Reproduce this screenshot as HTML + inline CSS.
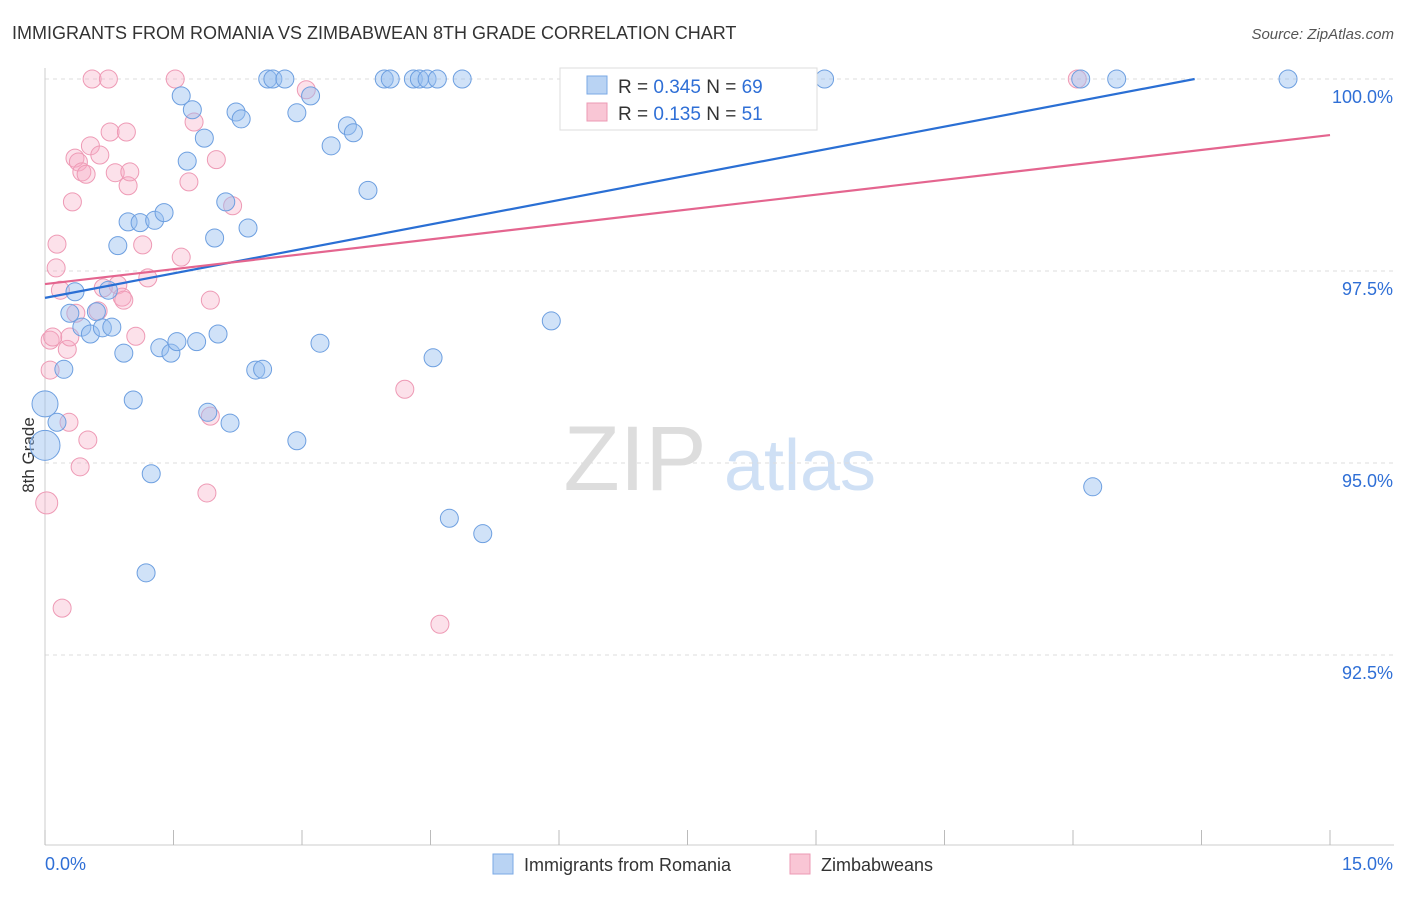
<!DOCTYPE html>
<html><head><meta charset="utf-8">
<style>
body{margin:0;background:#fff;font-family:"Liberation Sans",sans-serif;}
svg text{font-family:"Liberation Sans",sans-serif;}
</style></head>
<body>
<svg width="1406" height="892" id="chart">
<text x="12" y="39" font-size="18" fill="#333">IMMIGRANTS FROM ROMANIA VS ZIMBABWEAN 8TH GRADE CORRELATION CHART</text>
<text x="1394" y="39" font-size="15" fill="#555" text-anchor="end" font-style="italic">Source: ZipAtlas.com</text>
<text x="34" y="455" font-size="17" fill="#333" text-anchor="middle" transform="rotate(-90 34 455)">8th Grade</text>
<g>
<text x="635" y="490" font-size="92" fill="#ddd" text-anchor="middle" font-family="Liberation Serif">ZIP</text>
<text x="800" y="490" font-size="72" fill="#cfe0f5" text-anchor="middle">atlas</text>
</g>
<g id="grid"></g>
<g id="axes"></g>
<g id="marks"></g>
<g id="lines"></g>
<g>
<rect x="560" y="68" width="257" height="62" fill="#fff" stroke="#ddd"/>
<rect x="587" y="76" width="20" height="18" fill="#b9d3f3" stroke="#7aa8e6"/>
<rect x="587" y="103" width="20" height="18" fill="#f9c6d5" stroke="#ec9ab4"/>
<text x="618" y="93" font-size="19" fill="#333">R = <tspan fill="#2f6fd6">0.345</tspan>   N = <tspan fill="#2f6fd6">69</tspan></text>
<text x="618" y="120" font-size="19" fill="#333">R =  <tspan fill="#2f6fd6">0.135</tspan>   N =  <tspan fill="#2f6fd6">51</tspan></text>
</g>
<g>
<rect x="493" y="854" width="20" height="20" fill="#b9d3f3" stroke="#7aa8e6"/>
<text x="524" y="871" font-size="18" fill="#333">Immigrants from Romania</text>
<rect x="790" y="854" width="20" height="20" fill="#f9c6d5" stroke="#ec9ab4"/>
<text x="821" y="871" font-size="18" fill="#333">Zimbabweans</text>
</g>
</svg>
<script>
const blueX=[0,0,0.14,0.22,0.35,0.29,0.43,0.53,0.6,0.67,0.78,0.74,0.85,0.92,0.97,1.03,1.11,1.18,1.24,1.28,1.39,1.34,1.47,1.54,1.59,1.66,1.72,1.77,1.86,1.9,1.98,2.02,2.11,2.16,2.23,2.29,2.37,2.46,2.54,2.6,2.66,2.8,2.94,2.94,3.1,3.21,3.34,3.53,3.6,3.77,3.96,4.03,4.3,4.37,4.46,4.58,4.53,4.72,4.87,5.11,5.91,6.36,9.1,12.23,12.09,12.51,14.51];
const blueY=[95.77,95.23,95.53,96.22,97.23,96.95,96.77,96.68,96.97,96.76,96.77,97.25,97.83,96.43,98.14,95.82,98.13,93.57,94.86,98.16,98.26,96.5,96.43,96.58,99.78,98.93,99.6,96.58,99.23,95.66,97.93,96.68,98.4,95.52,99.57,99.48,98.06,96.21,96.22,100,100,100,99.56,95.29,99.78,96.56,99.13,99.39,99.3,98.55,100,100,100,100,100,100,96.37,94.28,100,94.08,96.85,100,100,94.69,100,100,100];
const blueR=[14,16,10,10,10,10,10,10,10,10,10,10,10,10,10,10,10,10,10,10,10,10,10,10,10,10,10,10,10,10,10,10,10,10,10,10,10,10,10,10,10,10,10,10,10,10,10,10,10,10,10,10,10,10,10,10,10,10,10,10,10,10,10,10,10,10,10];
const pinkX=[0.02,0.06,0.06,0.09,0.13,0.14,0.18,0.2,0.26,0.28,0.29,0.32,0.35,0.39,0.41,0.43,0.48,0.5,0.53,0.55,0.64,0.74,0.76,0.82,0.85,0.9,0.92,0.95,0.97,0.99,1.06,1.14,1.2,1.52,1.59,1.68,1.74,1.89,1.93,1.93,2.0,2.19,3.05,4.2,4.61,12.05,0.62,0.68,0.36];
const pinkY=[94.48,96.6,96.21,96.64,97.54,97.85,97.25,93.11,96.48,95.53,96.64,98.4,98.97,98.92,94.95,98.79,98.76,95.3,99.13,100,99.01,100,99.31,98.78,97.32,97.16,97.12,99.31,98.61,98.79,96.65,97.84,97.41,100,97.68,98.66,99.44,94.61,97.12,95.61,98.95,98.35,99.86,95.96,92.9,100,96.98,97.28,96.95];
const xTicks=[0,1.5,3,4.5,6,7.5,9,10.5,12,13.5,15];
const yGrid=[100,97.5,95,92.5];
const yLabels=["100.0%","97.5%","95.0%","92.5%"];
const blueTrend=[0,97.15,13.42,100];
const pinkTrend=[0,97.33,15,99.27];
const NS="http://www.w3.org/2000/svg";
const sx=v=>45+v*85.667, sy=v=>79+(100-v)*76.8;
function mk(tag,attrs,parent){const e=document.createElementNS(NS,tag);for(const k in attrs)e.setAttribute(k,attrs[k]);document.getElementById(parent).appendChild(e);return e;}
yGrid.forEach((v,i)=>{
 const l=mk('line',{x1:45,x2:1394,y1:sy(v),y2:sy(v),stroke:'#ddd','stroke-dasharray':'4,4'},'grid');
 
 
 const t=mk('text',{x:1393,y:sy(v)+24,'font-size':18,fill:'#2f6fd6','text-anchor':'end'},'axes');
 t.textContent=yLabels[i];
 
 
});
const ax=mk('line',{x1:45,x2:45,y1:68,y2:845,stroke:'#ccc'},'axes');


const bx=mk('line',{x1:45,x2:1394,y1:845,y2:845,stroke:'#ccc'},'axes');


xTicks.forEach(v=>{
 const t=mk('line',{x1:sx(v),x2:sx(v),y1:830,y2:845,stroke:'#bbb'},'axes');
 
 
});
const xl0=mk('text',{x:45,y:870,'font-size':18,fill:'#2f6fd6'},'axes');xl0.textContent="0.0%";


const xl1=mk('text',{x:1393,y:870,'font-size':18,fill:'#2f6fd6','text-anchor':'end'},'axes');xl1.textContent="15.0%";


pinkX.forEach((v,i)=>{
 const c=mk('circle',{cx:sx(v),cy:sy(pinkY[i]),r:i==0?11:9,fill:'rgba(246,170,195,0.35)',stroke:'#ee9ab5','stroke-width':1},'marks');
 
 
});
blueX.forEach((v,i)=>{
 const c=mk('circle',{cx:sx(v),cy:sy(blueY[i]),r:(blueR[i]||10)-1,fill:'rgba(150,190,240,0.45)',stroke:'#6d9fe0','stroke-width':1},'marks');
 
 
});
const bl=mk('line',{x1:sx(blueTrend[0]),y1:sy(blueTrend[1]),x2:sx(blueTrend[2]),y2:sy(blueTrend[3]),stroke:'#2a6fd4','stroke-width':2.2},'lines');


const pl=mk('line',{x1:sx(pinkTrend[0]),y1:sy(pinkTrend[1]),x2:sx(pinkTrend[2]),y2:sy(pinkTrend[3]),stroke:'#e4658f','stroke-width':2.2},'lines');


</script>
</body></html>
